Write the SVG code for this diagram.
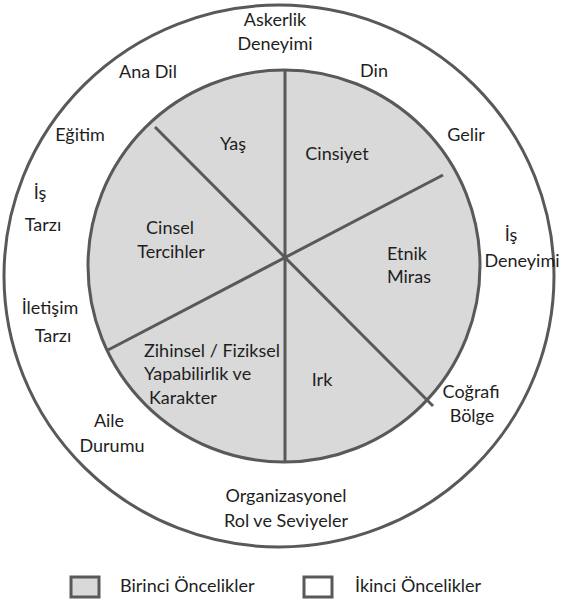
<svg xmlns="http://www.w3.org/2000/svg" width="566" height="605" viewBox="0 0 566 605">
<style>
.t{font-family:Lato,"Open Sans","Noto Sans",sans-serif;font-size:18px;fill:#1e1e1e;text-anchor:middle}
.l{text-anchor:start}
.ln{stroke:#595959;stroke-width:3;fill:none;stroke-linecap:butt}
</style>
<rect width="566" height="605" fill="#ffffff"/>
<g id="outer">
<ellipse cx="279" cy="276" rx="275" ry="271" fill="#ffffff" stroke="#595959" stroke-width="3"/>
</g>
<g id="inner">
<circle cx="284" cy="266" r="196" fill="#d9d9d9" stroke="#595959" stroke-width="3"/>
</g>
<g id="connectors">
<line class="ln" x1="285" y1="70" x2="285" y2="462"/>
<line class="ln" x1="108" y1="350" x2="443" y2="175"/>
<line class="ln" x1="155" y1="127" x2="433" y2="406"/>
</g>
<g id="primary-labels">
<g id="yas"><text class="t" x="233" y="150">Yaş</text></g>
<g id="cinsiyet"><text class="t" x="337" y="160">Cinsiyet</text></g>
<g id="cinsel"><text class="t" x="170" y="234">Cinsel</text><text class="t" x="171" y="258">Tercihler</text></g>
<g id="etnik"><text class="t" x="407" y="260">Etnik</text><text class="t" x="409" y="283">Miras</text></g>
<g id="zihinsel"><text class="t l" x="144" y="357">Zihinsel / Fiziksel</text><text class="t l" x="144" y="380">Yapabilirlik ve</text><text class="t l" x="149" y="404">Karakter</text></g>
<g id="irk"><text class="t" x="322" y="386">Irk</text></g>
</g>
<g id="secondary-labels">
<g id="askerlik"><text class="t" x="275" y="26">Askerlik</text><text class="t" x="275" y="50">Deneyimi</text></g>
<g id="anadil"><text class="t" x="148" y="78">Ana Dil</text></g>
<g id="din"><text class="t" x="374" y="77">Din</text></g>
<g id="egitim"><text class="t" x="80" y="141">Eğitim</text></g>
<g id="gelir"><text class="t" x="466" y="141">Gelir</text></g>
<g id="istarzi"><text class="t" x="40" y="199">İş</text><text class="t" x="43" y="231">Tarzı</text></g>
<g id="isdeneyimi"><text class="t" x="511" y="241">İş</text><text class="t" x="522" y="267">Deneyimi</text></g>
<g id="iletisim"><text class="t" x="50" y="314">İletişim</text><text class="t" x="53" y="342">Tarzı</text></g>
<g id="aile"><text class="t" x="109" y="427">Aile</text><text class="t" x="112" y="452">Durumu</text></g>
<g id="cografi"><text class="t" x="471" y="398">Coğrafi</text><text class="t" x="472" y="422">Bölge</text></g>
<g id="org"><text class="t" x="286" y="502">Organizasyonel</text><text class="t" x="286" y="527">Rol ve Seviyeler</text></g>
</g>
<g id="legend">
<g id="leg1"><rect x="71" y="577" width="28" height="20" fill="#d9d9d9" stroke="#595959" stroke-width="3"/><text class="t l" x="120" y="592">Birinci Öncelikler</text></g>
<g id="leg2"><rect x="304" y="577" width="28" height="20" fill="#ffffff" stroke="#595959" stroke-width="3"/><text class="t l" x="355" y="592">İkinci Öncelikler</text></g>
</g>
</svg>
